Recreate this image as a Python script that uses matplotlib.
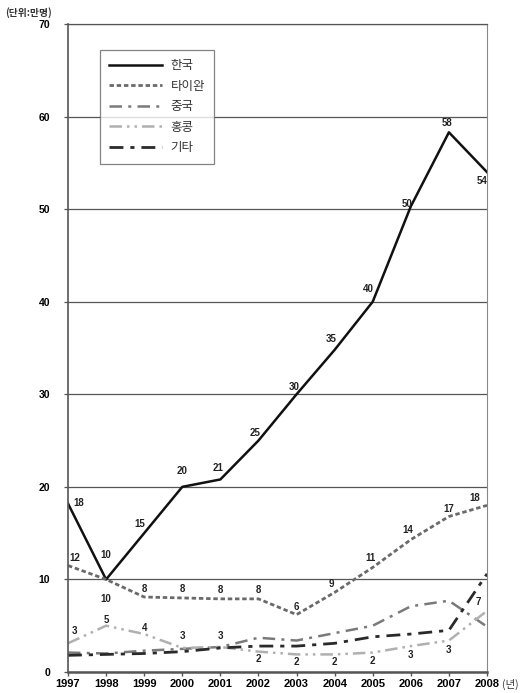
import numpy as np
import matplotlib.pyplot as plt

plt.rcParams['font.family'] = ['Liberation Sans', 'Noto Sans CJK KR']

years = [1997, 1998, 1999, 2000, 2001, 2002, 2003, 2004, 2005, 2006, 2007, 2008]

korea = [18.2, 10.0, 15.0, 20.0, 20.8, 25.0, 30.0, 34.8, 40.0, 50.3, 58.3, 54.0]
taiwan = [11.5, 10.0, 8.1, 8.0, 7.9, 7.9, 6.2, 8.6, 11.3, 14.3, 16.8, 18.0]
china = [2.1, 2.0, 2.3, 2.5, 2.7, 3.7, 3.4, 4.2, 5.0, 7.1, 7.7, 4.9]
hongkong = [3.1, 5.0, 4.1, 2.6, 2.7, 2.2, 1.9, 1.9, 2.1, 2.8, 3.4, 6.6]
others = [1.8, 1.9, 2.0, 2.2, 2.6, 2.8, 2.8, 3.1, 3.8, 4.1, 4.5, 10.6]

series_names = ['한국', '타이완', '중국', '홍콩', '기타']

fig = plt.figure(figsize=(5.25, 6.93), dpi=100)
ax = fig.add_axes([68/525, 1 - 672/693, 419/525, 648/693])

ax.plot(years, korea, color='#111111', lw=1.8, ls='-', label=series_names[0])
ax.plot(years, taiwan, color='#6a6a6a', lw=2.0, ls=(0, (1.6, 1.0)), label=series_names[1])
ax.plot(years, china, color='#7a7a7a', lw=1.8, ls=(0, (5, 2.5, 1.2, 2.5)), label=series_names[2])
ax.plot(years, hongkong, color='#b0b0b0', lw=1.8, ls=(0, (5, 2, 1, 2, 1, 2)), label=series_names[3])
ax.plot(years, others, color='#2a2a2a', lw=2.0, ls=(0, (5, 2.5, 1.5, 2.5)), label=series_names[4])

# value labels, offsets (dx, dy) in pixels from each point
lab_kw = dict(fontsize=7, fontweight='bold', color='#222222', ha='center', va='center')

kr_off = [(11, 1), (0, 24), (-4, 9), (0, 16), (-2, 11), (-3, 8), (-2, 7), (-3, 11), (-4, 13), (-4, 2), (-2, 9), (-5, -9)]
tw_off = [(7, 8), (0, -20), (0, 8), (0, 9), (0, 9), (0, 9), (0, 8), (-3, 8), (-2, 9), (-3, 10), (0, 7), (-12, 7)]
hk_off = [(6, 12), (0, 6), (0, 6), (0, 12), (0, 11), (0, -7), (0, -8), (0, -8), (0, -8), (0, -9), (0, -9), (-9, 9)]

for vals, offs in [(korea, kr_off), (taiwan, tw_off), (hongkong, hk_off)]:
    for x, v, (dx, dy) in zip(years, vals, offs):
        ax.annotate(f'{v:.0f}', (x, v), xytext=(dx, dy), textcoords='offset pixels', **lab_kw)

ax.set_xlim(1997, 2008)
ax.set_ylim(0, 70)
ax.set_yticks(np.arange(0, 71, 10))
ax.set_xticks(years)
ax.set_xticklabels([str(y) for y in years], fontsize=8, fontweight='bold')
ax.set_yticklabels([str(v) for v in range(0, 71, 10)], fontsize=7.5, fontweight='bold')
ax.yaxis.grid(True, color='#555555', lw=0.9)
ax.set_axisbelow(True)

ax.tick_params(axis='x', length=3, width=1, color='#555555', pad=2)
ax.tick_params(axis='y', length=3, width=0.9, color='#555555', pad=10)

for side in ['left', 'bottom']:
    ax.spines[side].set_color('#555555')
    ax.spines[side].set_linewidth(1.2)
ax.spines['bottom'].set_linewidth(1.8)
ax.spines['right'].set_color('#888888')
ax.spines['top'].set_color('#555555')
ax.spines['top'].set_linewidth(0.9)

leg = ax.legend(loc='upper left', bbox_to_anchor=(0.076, 0.96), frameon=True, fancybox=False,
                edgecolor='#666666', handlelength=4.2, labelspacing=0.6,
                borderpad=0.75, handletextpad=0.7, borderaxespad=0,
                prop={'family': ['Noto Sans CJK KR'], 'size': 9})
leg.get_frame().set_linewidth(0.9)
for t in leg.get_texts():
    t.set_color('#333333')

fig.text(5/525, 1 - 13/693, '(단위:만명)', fontsize=7, fontweight='bold', color='#333333',
         family=['Noto Sans CJK KR'], va='center')
fig.text(502/525, 1 - 684/693, '(년)', fontsize=7.5, color='#333333',
         family=['Noto Sans CJK KR'], va='center')

fig.savefig('out.png', dpi=100)
